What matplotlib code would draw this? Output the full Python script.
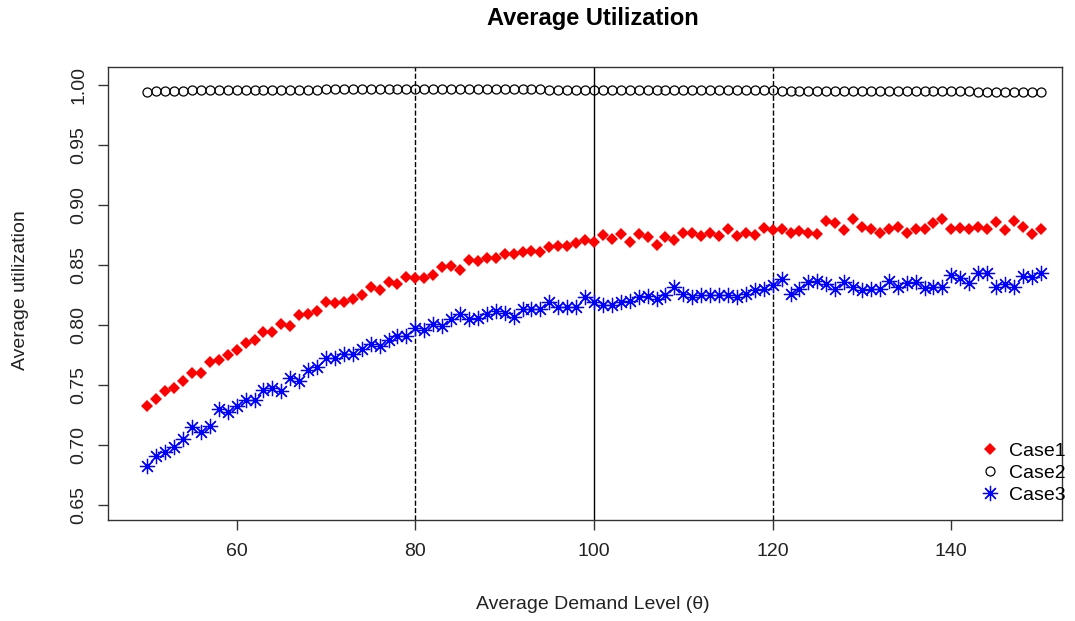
import numpy as np
import matplotlib
matplotlib.use("Agg")
import matplotlib.pyplot as plt

plt.rcParams["font.family"] = ["Liberation Sans", "DejaVu Sans"]

# demand level 50..150
theta = list(range(50, 151))

case1 = [
    0.732, 0.738, 0.745, 0.747, 0.753, 0.760, 0.760, 0.769, 0.771, 0.775,
    0.779, 0.785, 0.787, 0.794, 0.794, 0.801, 0.799, 0.808, 0.809, 0.812,
    0.819, 0.818, 0.819, 0.822, 0.825, 0.832, 0.829, 0.836, 0.834, 0.840,
    0.839, 0.839, 0.842, 0.848, 0.849, 0.846, 0.854, 0.853, 0.856, 0.856,
    0.859, 0.859, 0.861, 0.862, 0.861, 0.865, 0.866, 0.866, 0.868, 0.871,
    0.869, 0.875, 0.872, 0.876, 0.869, 0.876, 0.873, 0.867, 0.873, 0.871,
    0.877, 0.877, 0.874, 0.877, 0.874, 0.880, 0.874, 0.877, 0.875, 0.881,
    0.879, 0.880, 0.877, 0.878, 0.877, 0.876, 0.887, 0.885, 0.879, 0.888,
    0.882, 0.880, 0.877, 0.880, 0.882, 0.877, 0.880, 0.880, 0.885, 0.888,
    0.880, 0.881, 0.880, 0.882, 0.880, 0.886, 0.879, 0.887, 0.882, 0.876,
    0.880,
]

case2 = [
    0.9945, 0.9950, 0.9952, 0.9953, 0.9954, 0.9955, 0.9955, 0.9956, 0.9956, 0.9957,
    0.9958, 0.9958, 0.9959, 0.9960, 0.9960, 0.9961, 0.9961, 0.9962, 0.9962, 0.9962,
    0.9963, 0.9963, 0.9963, 0.9964, 0.9964, 0.9964, 0.9964, 0.9965, 0.9965, 0.9965,
    0.9965, 0.9965, 0.9965, 0.9965, 0.9965, 0.9965, 0.9965, 0.9964, 0.9964, 0.9964,
    0.9964, 0.9964, 0.9963, 0.9963, 0.9963, 0.9962, 0.9960, 0.9962, 0.9962, 0.9961,
    0.9962, 0.9961, 0.9961, 0.9960, 0.9960, 0.9960, 0.9959, 0.9958, 0.9959, 0.9958,
    0.9958, 0.9957, 0.9957, 0.9957, 0.9956, 0.9956, 0.9956, 0.9955, 0.9955, 0.9956,
    0.9955, 0.9954, 0.9952, 0.9954, 0.9953, 0.9953, 0.9954, 0.9952, 0.9953, 0.9952,
    0.9952, 0.9951, 0.9952, 0.9951, 0.9951, 0.9951, 0.9950, 0.9950, 0.9951, 0.9949,
    0.9949, 0.9950, 0.9948, 0.9944, 0.9945, 0.9946, 0.9944, 0.9945, 0.9943, 0.9942,
    0.9940,
]

case3 = [
    0.682, 0.691, 0.694, 0.698, 0.705, 0.715, 0.711, 0.716, 0.730, 0.727,
    0.732, 0.737, 0.737, 0.746, 0.747, 0.745, 0.756, 0.753, 0.762, 0.765,
    0.772, 0.772, 0.776, 0.776, 0.780, 0.784, 0.782, 0.787, 0.791, 0.791,
    0.797, 0.796, 0.801, 0.799, 0.805, 0.809, 0.805, 0.806, 0.809, 0.812,
    0.810, 0.807, 0.813, 0.813, 0.813, 0.819, 0.815, 0.815, 0.815, 0.823,
    0.819, 0.817, 0.817, 0.819, 0.820, 0.823, 0.824, 0.822, 0.825, 0.832,
    0.826, 0.823, 0.825, 0.825, 0.825, 0.825, 0.823, 0.826, 0.829, 0.830,
    0.833, 0.838, 0.826, 0.830, 0.836, 0.837, 0.834, 0.830, 0.836, 0.832,
    0.829, 0.830, 0.830, 0.837, 0.832, 0.835, 0.836, 0.831, 0.832, 0.832,
    0.842, 0.839, 0.835, 0.843, 0.843, 0.832, 0.834, 0.832, 0.841, 0.840,
    0.843,
]

vlines = [80, 100, 120]
vstyles = ["--", "-", "--"]

fig = plt.figure(figsize=(10.75, 6.21), dpi=100)
ax = fig.add_axes([0.1005, 0.163, 0.8875, 0.729])

for v, ls in zip(vlines, vstyles):
    ax.axvline(v, color="black", linestyle=ls, linewidth=1.0, zorder=1)

ax.plot(theta, case1, linestyle="none", marker="D", markersize=6,
        color="red", markeredgewidth=0, label="Case1", zorder=3)
ax.plot(theta, case2, linestyle="none", marker="o", markersize=6.5,
        markerfacecolor="none", markeredgecolor="black", markeredgewidth=0.9,
        label="Case2", zorder=3)
ax.plot(theta, case3, linestyle="none", marker=(8, 2, 0), markersize=11,
        color="blue", markeredgewidth=0.9, label="Case3", zorder=3)

ax.set_xlim(45.6, 152.4)
ax.set_ylim(0.6375, 1.015)
ax.set_xticks([60, 80, 100, 120, 140])
ax.set_yticks([0.65, 0.70, 0.75, 0.80, 0.85, 0.90, 0.95, 1.00])
ax.set_yticklabels(["%.2f" % t for t in ax.get_yticks()], rotation=90, va="center")
ax.tick_params(axis="both", labelsize=14, length=7, width=1, color="#333333",
               labelcolor="#222222")
ax.tick_params(axis="x", pad=10)
ax.tick_params(axis="y", pad=8)
for s in ax.spines.values():
    s.set_linewidth(1.0)
    s.set_color("#333333")

fig.text(593 / 1075, 1 - 18 / 621, "Average Utilization", fontsize=17,
         fontweight="bold", ha="center", va="center")
ax.set_xlabel("Average Demand Level (θ)", fontsize=14, color="#222222")
ax.set_ylabel("Average utilization", fontsize=14, color="#222222")
ax.xaxis.set_label_coords(0.508, -0.1876)
ax.yaxis.set_label_coords(-0.0922, 0.508)
ax.xaxis.label.set_va("center")
ax.yaxis.label.set_va("center")

leg = ax.legend(loc="upper left", bbox_to_anchor=(0.9116, 0.288),
                bbox_transform=fig.transFigure, frameon=False, fontsize=14,
                handletextpad=0.5, borderpad=0, borderaxespad=0,
                labelspacing=0.23, handlelength=1.0)

fig.savefig("out.png", dpi=100)
